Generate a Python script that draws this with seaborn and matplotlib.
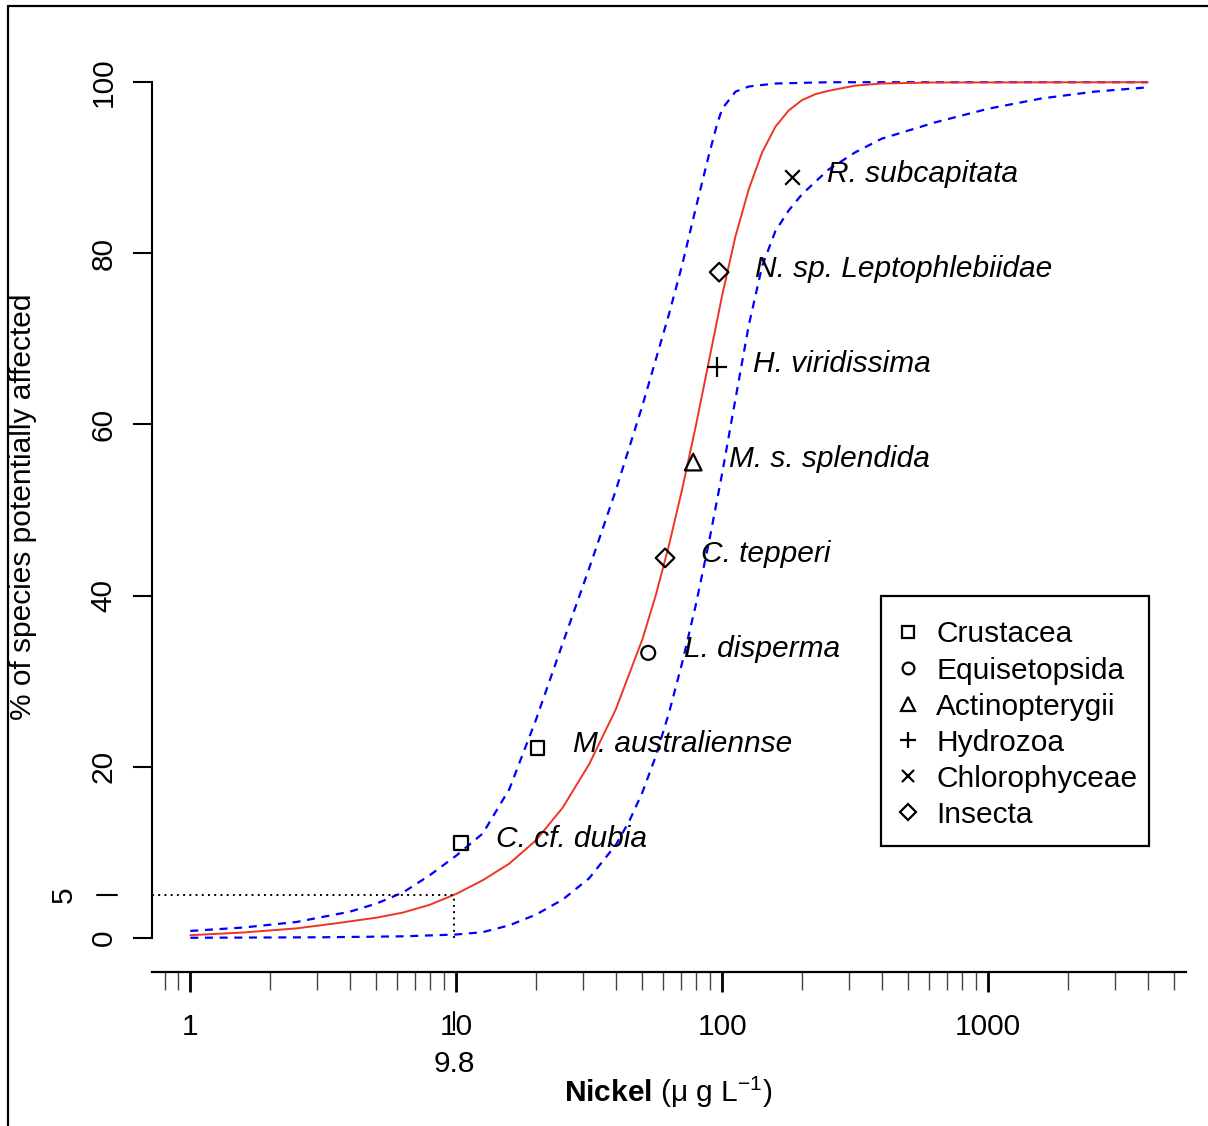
import numpy as np
import pandas as pd
import matplotlib
matplotlib.use("Agg")
import matplotlib.pyplot as plt
import matplotlib.ticker as mticker
import matplotlib.transforms as mtrans
from matplotlib.lines import Line2D
from matplotlib.patches import Rectangle
import seaborn as sns

sns.set_theme(style="white")
plt.rcParams['font.family'] = ['Liberation Sans', 'DejaVu Sans']
plt.rcParams['mathtext.fontset'] = 'custom'
plt.rcParams['mathtext.rm'] = 'Liberation Sans'
plt.rcParams['mathtext.bf'] = 'Liberation Sans:bold'
plt.rcParams['mathtext.it'] = 'Liberation Sans:italic'
plt.rcParams['text.color'] = 'black'
plt.rcParams['axes.labelcolor'] = 'black'
plt.rcParams['xtick.color'] = 'black'
plt.rcParams['ytick.color'] = 'black'
plt.rcParams['xtick.labelcolor'] = 'black'
plt.rcParams['ytick.labelcolor'] = 'black'

# ---------------- data ----------------
species = ["C. cf. dubia", "M. australiennse", "L. disperma", "C. tepperi",
           "M. s. splendida", "H. viridissima", "N. sp. Leptophlebiidae", "R. subcapitata"]
taxon = ["Crustacea", "Crustacea", "Equisetopsida", "Insecta",
         "Actinopterygii", "Hydrozoa", "Insecta", "Chlorophyceae"]
conc = [10.4, 20.2, 52.7, 61.0, 77.8, 95.8, 97.4, 183.0]
pct = [11.1, 22.2, 33.3, 44.4, 55.6, 66.7, 77.8, 88.9]

legend_order = ["Crustacea", "Equisetopsida", "Actinopterygii", "Hydrozoa", "Chlorophyceae", "Insecta"]

# fitted SSD curve
fit_x = [1, 1.585, 2.512, 3.548, 5.012, 6.310, 7.943, 10, 12.59, 15.85, 19.95, 25.12,
         31.62, 39.81, 50.12, 56.23, 63.10, 70.79, 79.43, 89.13, 100, 112.2, 125.9,
         141.3, 158.5, 177.8, 199.5, 223.9, 251.2, 316.2, 398.1, 631.0, 3981]
fit_y = [0.3, 0.62, 1.1, 1.7, 2.35, 2.95, 3.85, 5.13, 6.73, 8.68, 11.4, 15.2,
         20.3, 26.7, 34.9, 40.0, 45.9, 52.5, 59.7, 67.4, 75.1, 82.0, 87.5,
         91.8, 94.8, 96.7, 97.9, 98.6, 99.0, 99.6, 99.85, 99.97, 100.0]

# upper confidence band (left dashed curve)
upper_x = [1, 1.585, 2.512, 3.981, 5.012, 6.310, 7.943, 10, 12.59, 15.85, 19.95, 25.12,
           31.62, 39.81, 50.12, 63.10, 70.79, 79.43, 89.13, 95.50, 100, 112.2, 125.9,
           158.5, 251.2, 3981]
upper_y = [0.8, 1.2, 1.85, 3.05, 4.0, 5.3, 7.3, 9.6, 12.2, 17.4, 25.5, 34.4,
           43.2, 52.3, 62.2, 72.9, 78.7, 85.2, 91.5, 95.0, 96.9, 98.9, 99.5,
           99.85, 100.0, 100.0]

# lower confidence band (right dashed curve)
lower_x = [1, 3.162, 6.310, 10, 12.59, 15.85, 19.95, 25.12, 31.62, 39.81, 44.67, 50.12,
           56.23, 63.10, 70.79, 79.43, 89.13, 100, 112.2, 125.9, 141.3, 158.5, 177.8,
           199.5, 251.2, 316.2, 398.1, 631.0, 1000, 1585, 2512, 3981]
lower_y = [0.0, 0.06, 0.17, 0.38, 0.66, 1.46, 2.71, 4.46, 6.96, 10.86, 13.6, 17.0,
           21.2, 26.3, 32.2, 38.8, 46.2, 54.3, 63.0, 71.6, 78.5, 82.6, 85.0,
           86.9, 89.8, 91.8, 93.4, 95.3, 96.9, 98.1, 98.9, 99.4]

hc5 = 9.8
major_ticks = [1, 10, 100, 1000]
major_labels = ["1", "10", "100", "1000"]
minor_ticks = [0.8, 0.9, 2, 3, 4, 5, 6, 7, 8, 9, 20, 30, 40, 50, 60, 70, 80, 90,
               200, 300, 400, 500, 600, 700, 800, 900, 2000, 3000, 4000, 5000]
y_ticks = [0, 20, 40, 60, 80, 100]

markers = {"Crustacea": "s", "Equisetopsida": "o", "Actinopterygii": "^",
           "Hydrozoa": "+", "Chlorophyceae": "x", "Insecta": "D"}
msizes = {"Crustacea": 10.0, "Equisetopsida": 10.0, "Actinopterygii": 12.0,
          "Hydrozoa": 14.0, "Chlorophyceae": 10.5, "Insecta": 9.5}

RED = "#EE3524"
BLUE = "#0000FF"
FS = 21.5

# ---------------- figure ----------------
W, H = 1208, 1126
fig = plt.figure(figsize=(W / 100, H / 100), dpi=100)
ax = fig.add_axes([152 / W, 1 - 972 / H, (1186 - 152) / W, (972 - 48) / H])
ax.set_xscale("log")
ax.set_xlim(10 ** -0.144, 10 ** 3.744)
ax.set_ylim(-4, 104)

df_fit = pd.DataFrame({"conc": fit_x, "pct": fit_y})
df_up = pd.DataFrame({"conc": upper_x, "pct": upper_y})
df_lo = pd.DataFrame({"conc": lower_x, "pct": lower_y})

sns.lineplot(data=df_up, x="conc", y="pct", ax=ax, color=BLUE, lw=1.6,
             linestyle=(0, (3.6, 3.0)), sort=False, estimator=None)
sns.lineplot(data=df_lo, x="conc", y="pct", ax=ax, color=BLUE, lw=1.6,
             linestyle=(0, (3.6, 3.0)), sort=False, estimator=None)
sns.lineplot(data=df_fit, x="conc", y="pct", ax=ax, color=RED, lw=1.4,
             sort=False, estimator=None)

# HC5 dotted guide lines
ax.plot([10 ** -0.144, hc5], [5, 5], color="black", lw=1.4, linestyle=(0, (1, 2.2)))
ax.plot([hc5, hc5], [0, 5], color="black", lw=1.4, linestyle=(0, (1, 2.2)))

df_pts = pd.DataFrame({"species": species, "taxon": taxon, "conc": conc, "pct": pct})
for t in legend_order:
    sub = df_pts[df_pts["taxon"] == t]
    m = markers[t]
    if m in ("+", "x"):
        sns.scatterplot(data=sub, x="conc", y="pct", ax=ax, marker=m, color="black",
                        s=msizes[t] ** 2, linewidth=1.6, legend=False, zorder=5)
    else:
        sns.scatterplot(data=sub, x="conc", y="pct", ax=ax, marker=m, facecolor="none",
                        edgecolor="black", s=msizes[t] ** 2, linewidth=1.6,
                        legend=False, zorder=5)

for sp, x, y in zip(species, conc, pct):
    ax.annotate(sp, (x, y), xytext=(25.5, 2.5), textcoords="offset points",
                ha="left", va="center", fontsize=FS, fontstyle="italic", color="black")

# axes styling
for s in ["top", "right"]:
    ax.spines[s].set_visible(False)
ax.spines["left"].set_bounds(0, 100)
ax.spines["left"].set_linewidth(1.5)
ax.spines["left"].set_color("black")
ax.spines["bottom"].set_linewidth(1.6)
ax.spines["bottom"].set_color("black")

ax.set_yticks(y_ticks)
ax.set_yticklabels([str(v) for v in y_ticks])
ax.tick_params(axis="y", which="major", direction="out", length=13.7, width=1.5,
               color="black", labelcolor="black", pad=11, labelsize=FS, left=True)
for lbl in ax.get_yticklabels():
    lbl.set_rotation(90)
    lbl.set_va("center")
    lbl.set_ha("right")

ax.xaxis.set_major_locator(mticker.FixedLocator(major_ticks))
ax.xaxis.set_major_formatter(mticker.FixedFormatter(major_labels))
ax.xaxis.set_minor_locator(mticker.FixedLocator(minor_ticks))
ax.xaxis.set_minor_formatter(mticker.NullFormatter())
ax.tick_params(axis="x", which="major", direction="out", length=14.5, width=2.0,
               color="black", labelcolor="black", pad=15, labelsize=FS, bottom=True)
ax.tick_params(axis="x", which="minor", direction="out", length=13.0, width=1.0,
               color="#444444", bottom=True)
ax.set_xlabel("")
ax.set_ylabel("")
ax.grid(False)

# extra "5" tick on y, and 9.8 tick on x
ty = mtrans.blended_transform_factory(fig.transFigure, ax.transData)
fig.add_artist(Line2D([97 / W, 117 / W], [5, 5], transform=ty, color="black", lw=1.5))
fig.text(78 / W, 5, "5", transform=ty, rotation=90, ha="right", va="center",
         fontsize=FS, color="black")

tx = mtrans.blended_transform_factory(ax.transData, fig.transFigure)
fig.add_artist(Line2D([hc5, hc5], [1 - 1012 / H, 1 - 1030 / H], transform=tx,
                      color="black", lw=1.5))
fig.text(hc5, 1 - 1064 / H, "9.8", transform=tx, ha="center", va="center",
         fontsize=FS, color="black")

# axis titles
fig.text(668 / W, 1 - 1092 / H, r"$\mathbf{Nickel}$ (μ g L$^{-1}$)", ha="center",
         va="center", fontsize=FS, color="black")
fig.text(23 / W, 1 - 507 / H, "% of species potentially affected", rotation=90,
         ha="center", va="center", fontsize=FS, color="black")

# legend (frame drawn separately)
handles = [Line2D([], [], marker=markers[t], ls="none", mfc="none", mec="black",
                  color="black", mew=1.6, ms=msizes[t] * 0.85) for t in legend_order]
leg = ax.legend(handles, legend_order, loc="upper left",
                bbox_to_anchor=(900 / W, 1 - 620.5 / H), bbox_transform=fig.transFigure,
                borderaxespad=0, borderpad=0, handlelength=0.55, handletextpad=0.66,
                labelspacing=0.27, fontsize=FS, frameon=False, labelcolor="black")
fig.add_artist(Rectangle((881 / W, 1 - 846 / H), (1149 - 881) / W, (846 - 596) / H,
                         transform=fig.transFigure, fill=False, edgecolor="black",
                         lw=1.6))

# figure border (top and left)
fig.add_artist(Line2D([8 / W, 8 / W], [0, 1 - 6 / H], transform=fig.transFigure,
                      color="black", lw=1.6))
fig.add_artist(Line2D([8 / W, 1], [1 - 6 / H, 1 - 6 / H], transform=fig.transFigure,
                      color="black", lw=1.6))

fig.savefig("out.png", dpi=100)
